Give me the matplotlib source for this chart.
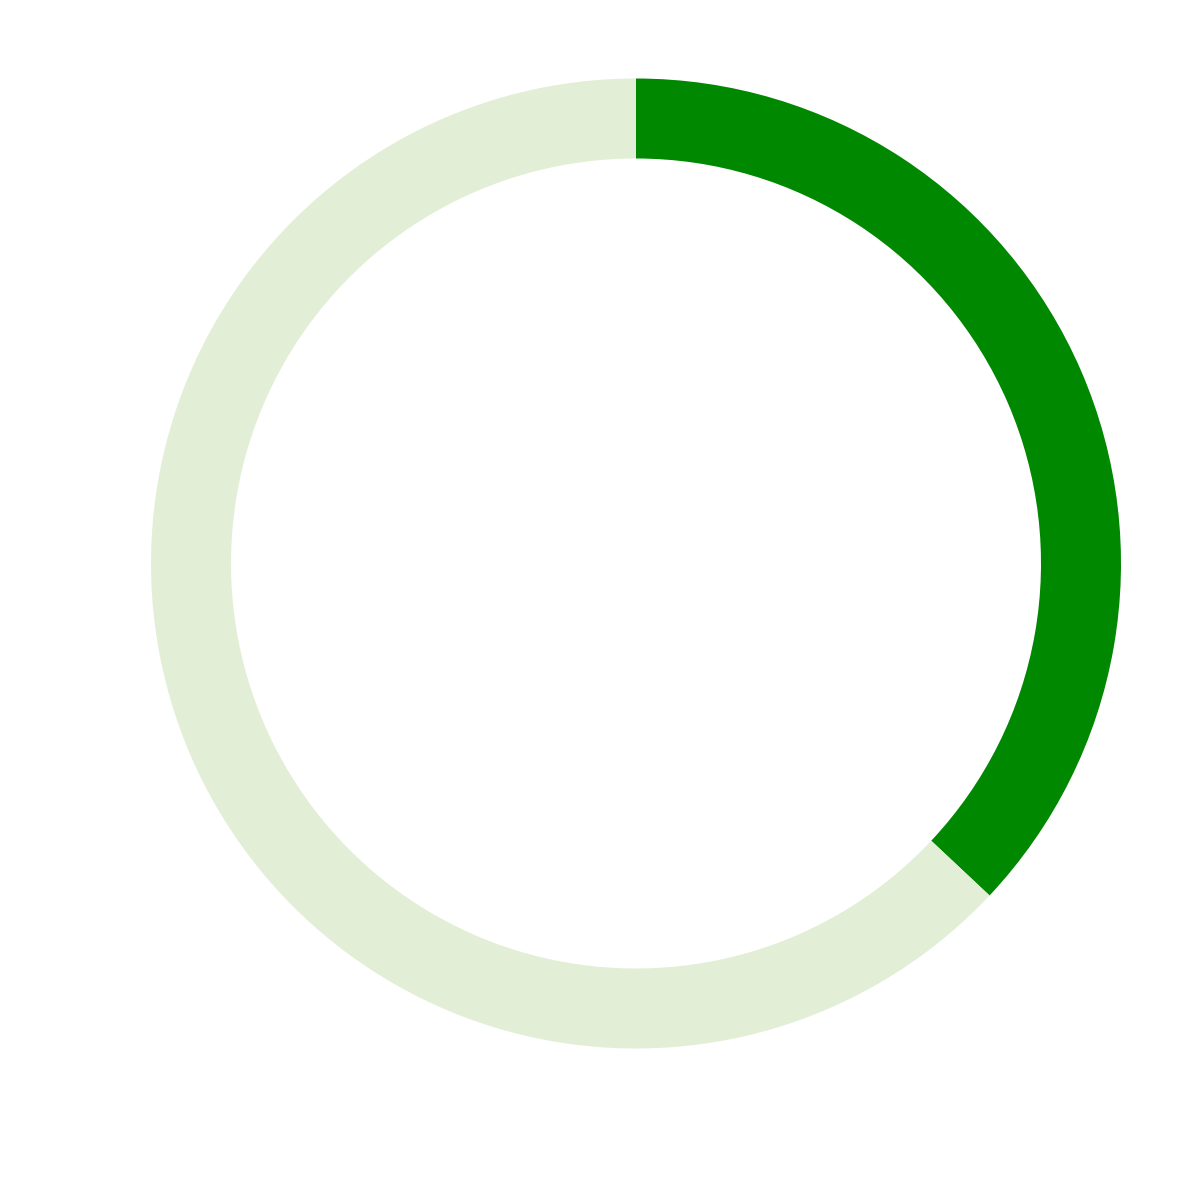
import matplotlib
matplotlib.use("Agg")
import matplotlib.pyplot as plt

# donut data: share done vs. remaining (percent)
labels = ["done", "remaining"]
values = [37, 63]
colors = ["#008800", "#e2efd6"]

fig = plt.figure(figsize=(12, 12), dpi=100)
# place the ring: centre ~ (636, 563) px, outer radius ~485 px
cx, cy, r = 636 / 1200, 1 - 563.5 / 1200, 485 / 1200
ax = fig.add_axes([cx - r, cy - r, 2 * r, 2 * r])
ax.pie(values, colors=colors, startangle=90, counterclock=False,
       radius=1.0, wedgeprops=dict(width=80 / 485, linewidth=0))
ax.set_xlim(-1, 1)
ax.set_ylim(-1, 1)
ax.set_aspect("equal")
ax.axis("off")

plt.savefig("out.png", dpi=100)
